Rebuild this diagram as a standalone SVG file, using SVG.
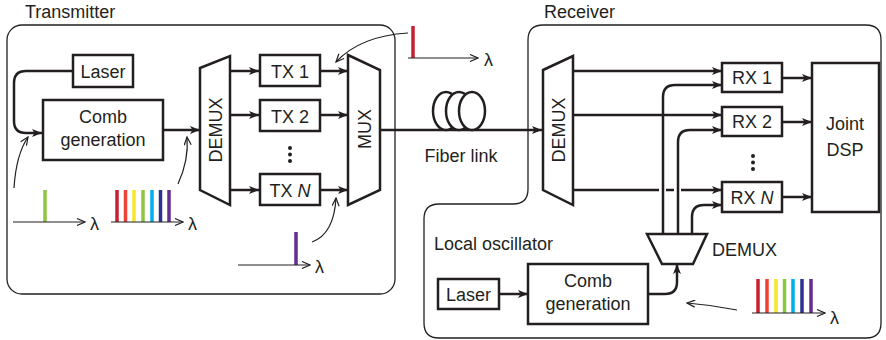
<svg xmlns="http://www.w3.org/2000/svg" width="886" height="340" viewBox="0 0 886 340">
<defs>
<marker id="ah" viewBox="0 0 10 8" refX="10" refY="4" markerWidth="10" markerHeight="8" markerUnits="userSpaceOnUse" orient="auto"><path d="M0,0 L10,4 L0,8 L2.5,4 Z" fill="#231f20"/></marker>
<marker id="oa" viewBox="0 0 10 8" refX="9" refY="4" markerWidth="10" markerHeight="8" markerUnits="userSpaceOnUse" orient="auto"><path d="M1,0.5 L9,4 L1,7.5" fill="none" stroke="#231f20" stroke-width="1.2"/></marker>
<style>
.box{fill:#fff;stroke:#231f20;stroke-width:2.5}
.frame{fill:none;stroke:#231f20;stroke-width:1.3}
.w{fill:none;stroke:#231f20;stroke-width:2.5;marker-end:url(#ah)}
.wl{fill:none;stroke:#231f20;stroke-width:2.5}
.thin{fill:none;stroke:#231f20;stroke-width:1.2;marker-end:url(#oa)}
text{font-family:"Liberation Sans",Arial,sans-serif;font-size:18px;fill:#231f20}
.c{text-anchor:middle}
.bar{stroke-width:3.5}
</style>
</defs>

<g id="transmitter-frame">
<rect class="frame" x="7" y="25" width="388" height="269" rx="15"/>
<text x="25" y="18">Transmitter</text>
</g>
<g id="receiver-frame">
<path class="frame" d="M543,25 H866 Q881,25 881,40 V323 Q881,338 866,338 H439 Q424,338 424,323 V219 Q424,204 439,204 H513 Q528,204 528,189 V40 Q528,25 543,25 Z"/>
<text x="544" y="18">Receiver</text>
<text x="434" y="250">Local oscillator</text>
</g>

<g id="connectors">
<path class="w" d="M73,71 H26 Q14,71 14,83 V121 Q14,133 26,133 H42"/>
<path class="w" d="M163,130 H200"/>
<path class="w" d="M230,71 H259"/>
<path class="w" d="M230,115 H259"/>
<path class="w" d="M230,190 H259"/>
<path class="w" d="M320,71 H348"/>
<path class="w" d="M320,115 H348"/>
<path class="w" d="M320,190 H348"/>
<path class="w" d="M380,130 H542"/>
<path class="w" d="M573,71 H722"/>
<path class="w" d="M573,115 H722"/>
<path class="wl" d="M573,190 H659 M666,190 H674"/>
<path class="w" d="M681,190 H722"/>
<path class="w" d="M663,234 V97 Q663,85 675,85 H722"/>
<path class="w" d="M678,234 V142 Q678,130 690,130 H722"/>
<path class="w" d="M692,234 V217 Q692,205 704,205 H722"/>
<path class="w" d="M782,78 H812"/>
<path class="w" d="M782,122 H812"/>
<path class="w" d="M782,197 H812"/>
<path class="w" d="M499,294 H528"/>
<path class="w" d="M648,294 H665 Q677,294 677,282 V264"/>
<path class="thin" d="M14,188 Q16,155 28,137"/>
<path class="thin" d="M178,184 Q189,160 187,137"/>
<path class="thin" d="M312,242 Q334,234 336,198"/>
<path class="thin" d="M408,33 Q360,36 336,62"/>
<path class="thin" d="M737,310 Q712,305 687,303"/>
</g>

<g id="tx-laser"><rect class="box" x="73" y="55" width="60" height="32"/><text class="c" x="103" y="78">Laser</text></g>
<g id="tx-comb"><rect class="box" x="43" y="100" width="120" height="60"/><text class="c" x="103" y="123">Comb</text><text class="c" x="103" y="146">generation</text></g>
<g id="tx-demux"><path class="box" d="M200,68 L230,56 V205 L200,190 Z"/><text class="c" transform="translate(215,130) rotate(-90)" y="6.5">DEMUX</text></g>
<g id="tx1"><rect class="box" x="260" y="55" width="60" height="31"/><text class="c" x="290" y="78">TX 1</text></g>
<g id="tx2"><rect class="box" x="260" y="100" width="60" height="31"/><text class="c" x="290" y="123">TX 2</text></g>
<g id="tx-dots"><circle cx="290" cy="148" r="2" fill="#231f20"/><circle cx="290" cy="154.5" r="2" fill="#231f20"/><circle cx="290" cy="161" r="2" fill="#231f20"/></g>
<g id="txN"><rect class="box" x="260" y="174" width="60" height="31"/><text class="c" x="290" y="197">TX <tspan font-style="italic">N</tspan></text></g>
<g id="mux"><path class="box" d="M348,55 L380,70 V190 L348,205 Z"/><text class="c" transform="translate(364,129) rotate(-90)" y="6.5">MUX</text></g>

<g id="fiber">
<ellipse class="box" cx="446" cy="111" rx="13" ry="19"/>
<ellipse class="box" cx="459" cy="111" rx="13" ry="19"/>
<ellipse class="box" cx="472" cy="111" rx="13" ry="19"/>
<text class="c" x="461" y="162">Fiber link</text>
</g>

<g id="rx-demux"><path class="box" d="M543,70 L573,56 V205 L543,190 Z"/><text class="c" transform="translate(558,130) rotate(-90)" y="6.5">DEMUX</text></g>
<g id="rx1"><rect class="box" x="722" y="63" width="60" height="29"/><text class="c" x="752" y="84">RX 1</text></g>
<g id="rx2"><rect class="box" x="722" y="107" width="60" height="29"/><text class="c" x="752" y="128">RX 2</text></g>
<g id="rx-dots"><circle cx="753" cy="156" r="2" fill="#231f20"/><circle cx="753" cy="162.5" r="2" fill="#231f20"/><circle cx="753" cy="169" r="2" fill="#231f20"/></g>
<g id="rxN"><rect class="box" x="722" y="182" width="60" height="30"/><text class="c" x="752" y="204">RX <tspan font-style="italic">N</tspan></text></g>
<g id="dsp"><rect class="box" x="812" y="63" width="67" height="149"/><text class="c" x="845" y="130">Joint</text><text class="c" x="845" y="156">DSP</text></g>

<g id="lo-demux"><path class="box" d="M647,234 H707 L693,264 H662 Z"/><text x="712" y="256">DEMUX</text></g>
<g id="lo-laser"><rect class="box" x="438" y="279" width="61" height="30"/><text class="c" x="468.5" y="301">Laser</text></g>
<g id="lo-comb"><rect class="box" x="528" y="264" width="120" height="60"/><text class="c" x="588" y="287">Comb</text><text class="c" x="588" y="310">generation</text></g>

<g id="spectrum-seed">
<line x1="45" y1="190" x2="45" y2="222" stroke="#8dc63f" class="bar"/>
<path class="thin" d="M13,222 H85"/>
<text x="90" y="230">λ</text>
</g>
<g id="spectrum-comb">
<line x1="117" y1="190" x2="117" y2="222" stroke="#c8202f" class="bar"/>
<line x1="125.5" y1="190" x2="125.5" y2="222" stroke="#ef4136" class="bar"/>
<line x1="134" y1="190" x2="134" y2="222" stroke="#f5e72c" class="bar"/>
<line x1="143" y1="190" x2="143" y2="222" stroke="#8dc63f" class="bar"/>
<line x1="152" y1="190" x2="152" y2="222" stroke="#00aeef" class="bar"/>
<line x1="160.5" y1="190" x2="160.5" y2="222" stroke="#2e3192" class="bar"/>
<line x1="169" y1="190" x2="169" y2="222" stroke="#662d91" class="bar"/>
<path class="thin" d="M111,222 H183"/>
<text x="188" y="230">λ</text>
</g>
<g id="spectrum-purple">
<line x1="296" y1="232" x2="296" y2="265" stroke="#662d91" class="bar"/>
<path class="thin" d="M238,265 H310"/>
<text x="315" y="273">λ</text>
</g>
<g id="spectrum-red">
<line x1="413" y1="26" x2="413" y2="58" stroke="#c8202f" class="bar"/>
<path class="thin" d="M408,58 H478"/>
<text x="484" y="66">λ</text>
</g>
<g id="spectrum-lo">
<line x1="758" y1="279" x2="758" y2="313" stroke="#c8202f" class="bar"/>
<line x1="767" y1="279" x2="767" y2="313" stroke="#ef4136" class="bar"/>
<line x1="776" y1="279" x2="776" y2="313" stroke="#f5e72c" class="bar"/>
<line x1="784.5" y1="279" x2="784.5" y2="313" stroke="#8dc63f" class="bar"/>
<line x1="793" y1="279" x2="793" y2="313" stroke="#00aeef" class="bar"/>
<line x1="802" y1="279" x2="802" y2="313" stroke="#2e3192" class="bar"/>
<line x1="811" y1="279" x2="811" y2="313" stroke="#662d91" class="bar"/>
<path class="thin" d="M752,313 H825"/>
<text x="830" y="324">λ</text>
</g>
</svg>
